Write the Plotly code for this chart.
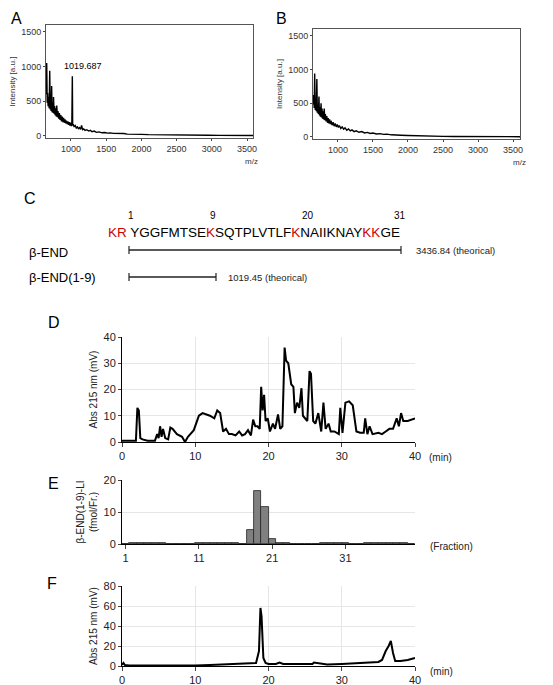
import plotly.graph_objects as go

W, H = 545, 677   # page has 8px body margin; pixel targets below are in screenshot coords
OFF = 8
# ---------------- data ----------------
ms_a_mz = [645,655,662,668,675,682,690,698,705,712,718,725,732,740,748,752,760,768,775,783,790,798,806,815,825,835,845,855,865,875,885,895,905,915,925,935,945,955,965,975,985,995,1005,1012,1019,1024,1032,1045,1060,1075,1090,1105,1120,1135,1150,1165,1180,1200,1225,1250,1275,1300,1330,1360,1400,1440,1480,1520,1560,1600,1650,1700,1750,1800,1860,1920,2000,2100,2200,2300,2400,2500,2650,2800,2950,3100,3250,3400,3550,3600]
ms_a_int = [600,1050,480,620,430,560,400,940,380,520,360,720,340,480,330,560,320,430,300,400,280,440,270,360,250,330,230,300,210,280,200,260,190,240,180,220,170,210,160,200,150,190,140,180,860,150,170,130,150,115,130,105,120,95,150,90,100,80,90,70,80,60,70,52,58,45,50,40,44,36,38,30,34,26,28,22,22,18,16,13,14,10,11,9,9,8,8,7,7,6]
ms_b_mz = [645,652,660,667,675,682,690,698,705,712,720,728,735,742,750,758,765,772,780,788,795,803,812,820,830,840,850,860,870,880,890,900,915,930,945,960,975,990,1005,1020,1040,1060,1080,1100,1125,1150,1175,1200,1230,1260,1300,1340,1380,1420,1460,1500,1550,1600,1650,1700,1760,1820,1900,2000,2100,2200,2300,2400,2500,2650,2800,2950,3100,3250,3400,3550,3600]
ms_b_int = [480,620,430,940,400,560,380,860,360,480,340,600,320,440,300,500,290,420,270,380,260,420,250,340,230,310,210,280,200,260,190,240,175,220,160,200,150,185,140,170,125,150,115,135,100,120,90,105,80,92,70,80,60,68,52,58,45,50,38,42,32,34,26,22,18,15,13,11,9,8,7,6,6,5,5,5,4]

d_t = [0,1.9,2.1,2.3,2.5,2.8,3.5,4.5,4.8,5.0,5.2,5.4,5.6,5.9,6.3,6.6,6.9,7.5,8.2,8.6,9.0,9.8,10.5,11.0,12.0,12.6,13.0,13.4,13.8,14.2,14.6,15.0,15.5,16.0,16.4,16.8,17.2,17.6,17.9,18.2,18.5,18.8,19.0,19.2,19.4,19.6,19.9,20.2,20.6,20.9,21.3,21.6,21.9,22.2,22.4,22.7,23.1,23.4,23.6,23.9,24.2,24.5,24.7,25.0,25.3,25.6,25.8,26.1,26.4,26.8,27.2,27.5,27.8,28.2,28.5,29.0,29.6,29.8,30.1,30.5,31.0,31.5,32.0,32.5,33.0,33.2,33.5,33.8,34.2,35.0,35.5,36.0,36.5,37.0,37.5,37.8,38.1,38.4,39.0,40.0]
d_v = [0.5,0.5,13,12,1.5,1,0.5,0.5,3,1.5,6,2,5,1.5,1,5.5,5,3,2,0,2,4.5,10,11,10,9,12,11,4,5,3,3,2.5,4,2.5,3,4.5,2.5,8.5,6,6,5,21,12,18,8,9,4,7,5,10.5,5,6,36,31,30,22,21,11,15,13,20.5,10,9,8,27,26,8,7,11,4,15,5,7,4,4,3,13,3.5,15,15.5,14,4,3.5,3.5,9,3,6,3,3.5,3,4,5,5,9,6,11,8,8,9]

e_frac = list(range(1, 41))
e_val = [0.1,0.2,0.3,0.3,0.2,0.2,0.1,0.1,0.1,0.1,0.2,0.2,0.3,0.3,0.3,0.2,0.1,4.5,16.5,11.5,1.7,0.3,0.2,0.1,0.1,0.1,0.1,0.2,0.3,0.3,0.2,0.1,0.1,0.2,0.3,0.3,0.2,0.2,0.2,0.1]

f_t = [0,0.2,0.4,1,3,5,8,10,12,14,15,16,17,17.8,18.3,18.7,18.9,19.05,19.3,19.6,20,21,21.5,22,24,26,26.2,28,30,32,34,35,35.5,36,36.4,36.7,37.0,37.3,38,39,40]
f_v = [1,3,1,0.5,0.5,0.3,0.3,0.5,1,1.5,2,2.5,2,2.5,3,15,58,50,8,3,2,2,3.5,2,2,2,3.5,1.5,2,2.5,3,4,6,15,20,25,13,5,5,6,8]

fig = go.Figure()
line = dict(color='black', width=1.4)
fig.add_trace(go.Scatter(x=ms_a_mz, y=ms_a_int, mode='lines', line=line, xaxis='x', yaxis='y'))
fig.add_trace(go.Scatter(x=ms_b_mz, y=ms_b_int, mode='lines', line=line, xaxis='x2', yaxis='y2'))
fig.add_trace(go.Scatter(x=d_t, y=d_v, mode='lines', line=dict(color='black', width=2), xaxis='x3', yaxis='y3'))
fig.add_trace(go.Bar(x=e_frac, y=e_val, width=1, marker=dict(color='#808080', line=dict(color='#222', width=0.8)), xaxis='x4', yaxis='y4'))
fig.add_trace(go.Scatter(x=f_t, y=f_v, mode='lines', line=dict(color='black', width=2), xaxis='x5', yaxis='y5'))

def px(p): return (p - OFF) / W
def py(p): return 1 - (p - OFF) / H
def dx(a, b): return [px(a), px(b)]
def dy(top, bot): return [py(bot), py(top)]

tf8 = dict(family='Liberation Sans', size=9, color='#333')
tf11 = dict(family='Liberation Sans', size=11, color='#222')
msx = dict(showline=True, linecolor='#555', mirror=True, ticks='outside', ticklen=2, tickfont=tf8, automargin=False,
           tickvals=[1000,1500,2000,2500,3000,3500], showgrid=False, zeroline=False)
msy = dict(showline=True, linecolor='#555', mirror=True, ticks='outside', ticklen=2, tickfont=tf8, automargin=False,
           tickvals=[0,500,1000,1500], showgrid=False, zeroline=False, range=[-30, 1600],
           title=dict(text='Intensity [a.u.]', font=dict(family='Liberation Sans', size=8, color='#333'), standoff=4))
chx = dict(showline=True, linecolor='black', ticks='outside', ticklen=4, tickfont=tf11, automargin=False,
           showgrid=True, gridcolor='#e6e6e6', zeroline=False, range=[0, 40], tickvals=[0,10,20,30,40])
chy = dict(showline=True, linecolor='black', ticks='outside', ticklen=3, tickfont=tf11, automargin=False,
           showgrid=True, gridcolor='#e6e6e6', zeroline=False)
ytitle = dict(family='Liberation Sans', size=10, color='#222')

fig.update_layout(
    width=W, height=H, margin=dict(l=0, r=0, t=0, b=0), showlegend=False,
    paper_bgcolor='white', plot_bgcolor='white', bargap=0,
    xaxis=dict(domain=dx(46, 253), range=[645, 3585], anchor='y', **msx),
    yaxis=dict(domain=dy(25, 138), anchor='x', **msy),
    xaxis2=dict(domain=dx(313, 520), range=[643, 3600], anchor='y2', **msx),
    yaxis2=dict(domain=dy(29, 139), anchor='x2', **msy),
    xaxis3=dict(domain=dx(122, 415), anchor='y3', **chx),
    yaxis3=dict(domain=dy(337, 442), anchor='x3', range=[0, 40], tickvals=[0,10,20,30,40],
                title=dict(text='Abs 215 nm (mV)', font=ytitle, standoff=4), **chy),
    xaxis4=dict(domain=dx(122, 415), anchor='y4', range=[0.5, 40.5], tickvals=[1,11,21,31], automargin=False,
                showline=True, linecolor='black', ticks='outside', ticklen=4, tickfont=tf11, showgrid=False, zeroline=False),
    yaxis4=dict(domain=dy(480, 544), anchor='x4', range=[0, 20], tickvals=[0,10,20],
                title=dict(text='β-END(1-9)-LI<br>(fmol/Fr.)', font=ytitle, standoff=4), **chy),
    xaxis5=dict(domain=dx(122, 415), anchor='y5', **chx),
    yaxis5=dict(domain=dy(586, 666), anchor='x5', range=[0, 80], tickvals=[0,20,40,60,80],
                title=dict(text='Abs 215 nm (mV)', font=ytitle, standoff=4), **chy),
)

def txt(x, y, s, size, color='black', xa='left', ya='middle'):
    fig.add_annotation(x=px(x), y=py(y), xref='paper', yref='paper', text=s, showarrow=False,
                       xanchor=xa, yanchor=ya, font=dict(family='Liberation Sans', size=size, color=color))

txt(9, 18, 'A', 16); txt(274, 18, 'B', 16)
txt(62, 66, '1019.687', 9)
txt(243, 161, 'm/z', 8, '#333'); txt(511, 162, 'm/z', 8, '#333')
txt(22, 199, 'C', 16)
red = '#d00000'
seq = (f"<span style='color:{red}'>KR</span> YGGFMTSE<span style='color:{red}'>K</span>SQTPLVTLF"
       f"<span style='color:{red}'>K</span>NAIIKNAY<span style='color:{red}'>KK</span>GE")
txt(106, 232, seq, 13.5)
txt(131, 215, '1', 10, xa='center'); txt(213, 215, '9', 10, xa='center')
txt(308, 215, '20', 10, xa='center'); txt(400, 215, '31', 10, xa='center')
txt(27, 252, 'β-END', 13); txt(27, 278, 'β-END(1-9)', 13)
txt(414, 250, '3436.84 (theorical)', 9.5, '#222'); txt(226, 277, '1019.45 (theorical)', 9.5, '#222')
for (a, b, yy) in [(129, 401, 250), (129, 216, 277)]:
    fig.add_shape(type='line', xref='paper', yref='paper', x0=px(a), x1=px(b), y0=py(yy), y1=py(yy), line=dict(color='#222', width=1.5))
    for xx in (a, b):
        fig.add_shape(type='line', xref='paper', yref='paper', x0=px(xx), x1=px(xx), y0=py(yy - 4), y1=py(yy + 4), line=dict(color='#222', width=1.2))
txt(46, 322, 'D', 16); txt(46, 483, 'E', 16); txt(45, 583, 'F', 16)
txt(427, 457, '(min)', 10, '#222'); txt(428, 546, '(Fraction)', 10, '#222'); txt(428, 671, '(min)', 10, '#222')

fig.write_html('out.html')
